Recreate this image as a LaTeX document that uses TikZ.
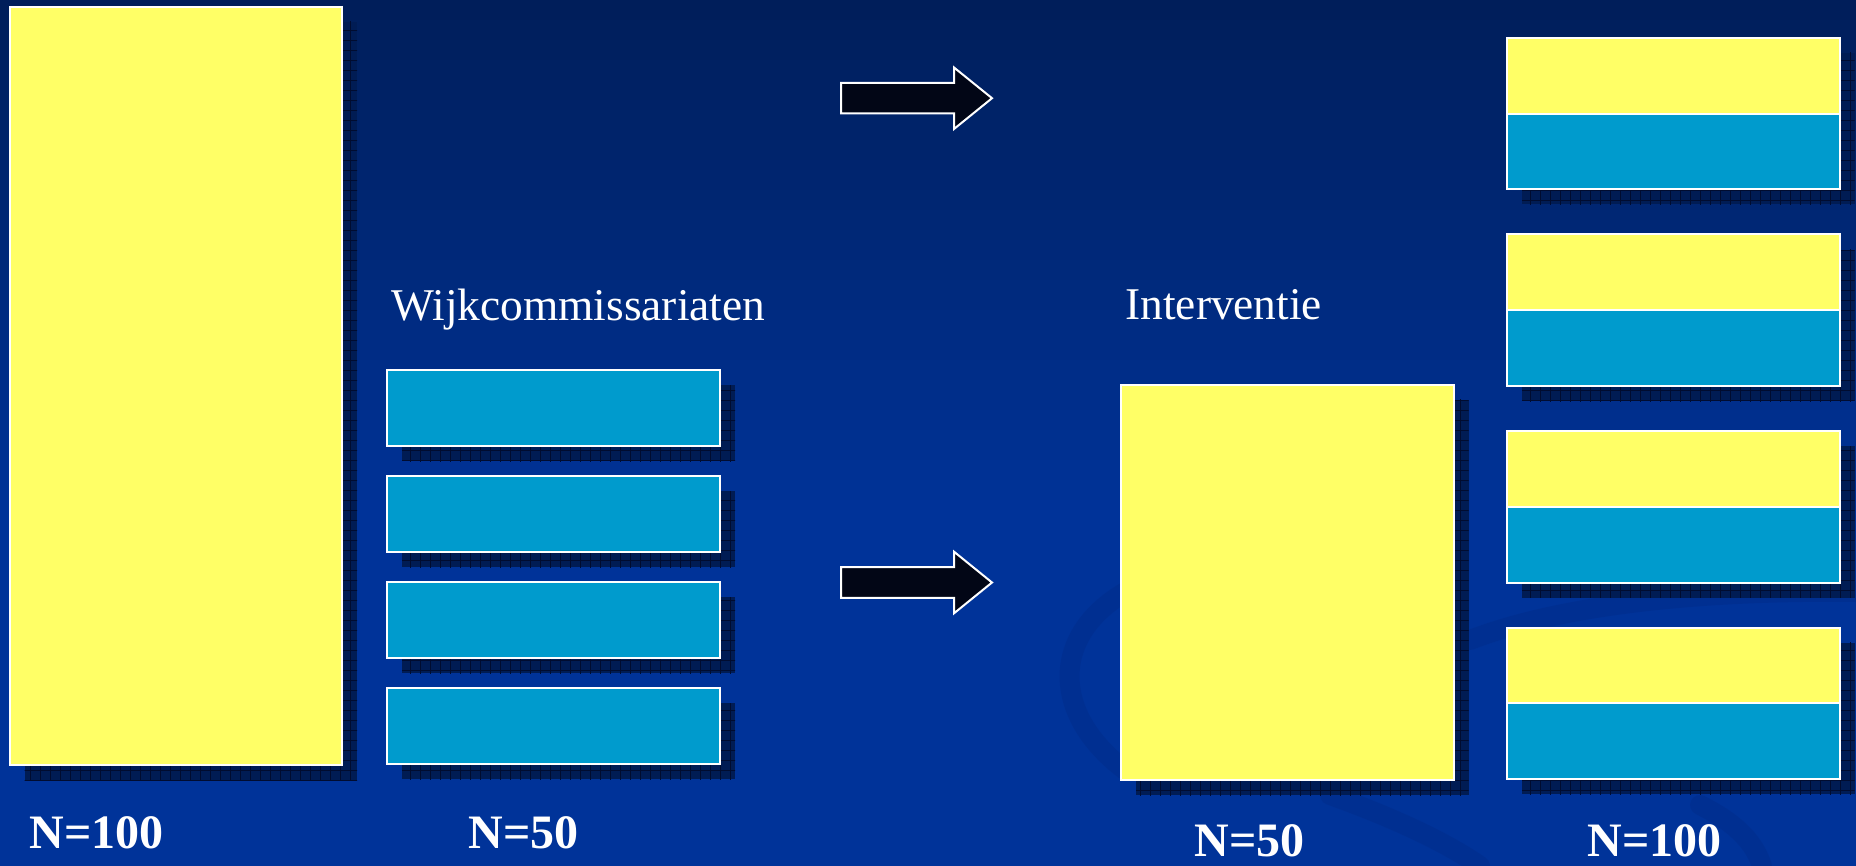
\documentclass[tikz,border=0pt]{standalone}
\usepackage{fontspec}
\setmainfont{Liberation Serif}
\usetikzlibrary{calc}
\definecolor{bgtop}{RGB}{0,30,90}
\definecolor{bgbot}{RGB}{0,51,153}
\definecolor{boxyellow}{RGB}{255,255,102}
\definecolor{boxblue}{RGB}{0,155,205}
\definecolor{shadowfill}{RGB}{0,28,84}
\definecolor{shadowgrid}{RGB}{0,12,48}
\definecolor{arrowfill}{RGB}{2,6,22}
\definecolor{swirl}{RGB}{0,36,120}
\tikzset{
  box/.style={draw=white, line width=1pt, inner sep=0pt, outer sep=0pt},
  ybox/.style={box, fill=boxyellow},
  bbox/.style={box, fill=boxblue},
  shadowbox/.style={fill=shadowfill},
  shadowlines/.style={draw=shadowgrid, line width=0.3pt},
  bigarrow/.style={draw=white, line width=1pt, fill=arrowfill, line join=miter},
  title/.style={text=white, inner sep=0pt, anchor=base west, font=\fontsize{22.7}{27}\selectfont},
  ncount/.style={text=white, inner sep=0pt, anchor=base west, font=\bfseries\fontsize{24}{28}\selectfont},
  swirlband/.style={draw=swirl, opacity=0.22, line width=10pt, line cap=round}
}
\newcommand{\boxshadow}[1]{%
  \fill[shadowbox] ($(#1.south west)+(15,15)$) rectangle ($(#1.north east)+(15,15)$);
  \begin{scope}
    \clip ($(#1.south west)+(15,15)$) rectangle ($(#1.north east)+(15,15)$);
    \draw[shadowlines, step=5pt] ($(#1.south west)+(0,30)$) grid ($(#1.north east)+(30,0)$);
  \end{scope}}
\begin{document}
\begin{tikzpicture}[x=0.5pt, y=-0.5pt]
\useasboundingbox (0,0) rectangle (1856,866);
% background: vertical gradient built from strips
\fill[bgbot] (0,0) rectangle (1856,866);
\foreach \i in {0,...,51}{
  \pgfmathtruncatemacro{\p}{100-round(\i*100/51)}
  \fill[bgtop!\p!bgbot] (0,\i*10) rectangle (1856,\i*10+10.5);
}
% faint swirls
\draw[swirlband] (1125,770) .. controls (1045,710) and (1050,620) .. (1150,580);
\draw[swirlband] (1470,640) .. controls (1560,605) and (1700,590) .. (1856,592);
\draw[swirlband] (1330,795) .. controls (1400,820) and (1450,845) .. (1480,866);
\draw[swirlband] (1700,805) .. controls (1740,825) and (1755,845) .. (1762,866);
% box nodes (placed first to get anchors for the shadows)
\path node[ybox, minimum width=166.25pt, minimum height=379pt] (big) at (175.75,386) {};
\path node[bbox, minimum width=166.5pt, minimum height=38pt] (w1) at (553.5,408) {};
\path node[bbox, minimum width=166.5pt, minimum height=38pt] (w2) at (553.5,514) {};
\path node[bbox, minimum width=166.5pt, minimum height=38pt] (w3) at (553.5,620) {};
\path node[bbox, minimum width=166.5pt, minimum height=38pt] (w4) at (553.5,726) {};
\path node[ybox, minimum width=166.3pt, minimum height=197.6pt] (iv) at (1287.3,582.4) {};
% shadows
\boxshadow{big}
\boxshadow{w1}
\boxshadow{w2}
\boxshadow{w3}
\boxshadow{w4}
\boxshadow{iv}
\foreach \t/\n in {38/r1,234.5/r2,431/r3,627.5/r4}{
  \coordinate (\n-nw) at (1507,\t);
  \coordinate (\n-se) at (1839.5,\t+151.5);
  \fill[shadowbox] ($(\n-nw)+(15,15)$) rectangle ($(\n-se)+(15,15)$);
  \begin{scope}
    \clip ($(\n-nw)+(15,15)$) rectangle ($(\n-se)+(15,15)$);
    \draw[shadowlines, step=5pt] (\n-nw) grid ($(\n-se)+(30,30)$);
  \end{scope}
}
% boxes on top
\node[ybox, minimum width=166.25pt, minimum height=379pt] at (big) {};
\node[bbox, minimum width=166.5pt, minimum height=38pt] at (w1) {};
\node[bbox, minimum width=166.5pt, minimum height=38pt] at (w2) {};
\node[bbox, minimum width=166.5pt, minimum height=38pt] at (w3) {};
\node[bbox, minimum width=166.5pt, minimum height=38pt] at (w4) {};
\node[ybox, minimum width=166.3pt, minimum height=197.6pt] at (iv) {};
\foreach \t/\n in {38/r1,234.5/r2,431/r3,627.5/r4}{
  \node[ybox, minimum width=166.25pt, minimum height=37.875pt] (\n a) at (1673.25,\t+37.875) {};
  \node[bbox, minimum width=166.25pt, minimum height=37.875pt] (\n b) at (1673.25,\t+113.625) {};
}
% arrows
\draw[bigarrow] (841,82.9) -- (954,82.9) -- (954,67.5) -- (992,98.2) -- (954,129) -- (954,113.5) -- (841,113.5) -- cycle;
\draw[bigarrow] (841,567.2) -- (954,567.2) -- (954,551.7) -- (992,582.5) -- (954,613.3) -- (954,597.8) -- (841,597.8) -- cycle;
% labels
\node[title] (wijk) at (391,320) {Wijkcommissariaten};
\node[title] (interv) at (1125,319.5) {Interventie};
\node[ncount] (n1) at (29,848.5) {N=100};
\node[ncount] (n2) at (468,848.5) {N=50};
\node[ncount] (n3) at (1194,856) {N=50};
\node[ncount] (n4) at (1587,856) {N=100};
\end{tikzpicture}
\end{document}
